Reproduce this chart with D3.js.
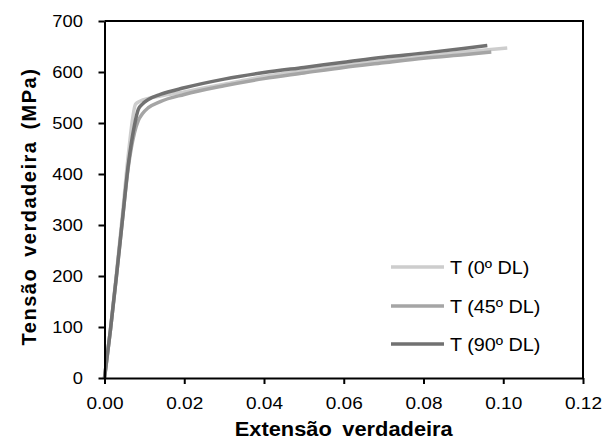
<!DOCTYPE html>
<html>
<head>
<style>
body {margin: 0; background: #fff; font-family: Arial, "Liberation Sans", sans-serif;}
</style>
<script src="https://cdnjs.cloudflare.com/ajax/libs/d3/7.8.5/d3.min.js"></script>
</head>
<body>
<div id="chart"></div>
<script>
    // values
    const seriesNames = ["T (0º DL)", "T (45º DL)", "T (90º DL)"];
    const seriesColors = ["#cdcdcd", "#a5a5a5", "#717171"];

    const strain0 = [0, 0.0015, 0.003, 0.0045, 0.006, 0.0078, 0.009, 0.011, 0.014, 0.02, 0.03, 0.04, 0.05, 0.06, 0.07, 0.08, 0.09, 0.101];
    const stress0 = [0, 95, 205, 320, 440, 537, 543, 548, 553, 561, 576, 591, 603, 613, 622, 631, 639, 647];

    const strain45 = [0, 0.0015, 0.003, 0.0045, 0.006, 0.0075, 0.0085, 0.0095, 0.011, 0.014, 0.02, 0.03, 0.04, 0.05, 0.06, 0.07, 0.08, 0.09, 0.097];
    const stress45 = [0, 95, 200, 310, 415, 480, 505, 518, 530, 542, 556, 573, 587, 598, 609, 618, 627, 634, 639];

    const strain90 = [0, 0.0015, 0.003, 0.0045, 0.006, 0.0075, 0.0085, 0.0095, 0.011, 0.014, 0.02, 0.03, 0.04, 0.05, 0.06, 0.07, 0.08, 0.09, 0.096];
    const stress90 = [0, 95, 200, 310, 420, 495, 527, 537, 546, 556, 569, 586, 599, 609, 619, 629, 637, 646, 652];

    const xTicks = [0, 0.02, 0.04, 0.06, 0.08, 0.10, 0.12];
    const yTicks = [0, 100, 200, 300, 400, 500, 600, 700];

    const W = 604, H = 441;
    const plotLeft = 104.5, plotRight = 583, plotTop = 21, plotBottom = 378;

    const svg = d3.select("#chart").append("svg")
        .attr("width", W)
        .attr("height", H);

    const x = d3.scaleLinear().domain([0, 0.12]).range([plotLeft, plotRight]);
    const y = d3.scaleLinear().domain([0, 700]).range([plotBottom, plotTop]);

    const series = [
        {name: seriesNames[0], color: seriesColors[0], pts: strain0.map((s, i) => [s, stress0[i]])},
        {name: seriesNames[1], color: seriesColors[1], pts: strain45.map((s, i) => [s, stress45[i]])},
        {name: seriesNames[2], color: seriesColors[2], pts: strain90.map((s, i) => [s, stress90[i]])}
    ];

    // frame (top and right)
    svg.append("path")
        .attr("d", `M${plotLeft},${plotTop}H${plotRight}V${plotBottom}`)
        .attr("fill", "none")
        .attr("stroke", "#000")
        .attr("stroke-width", 2);

    const line = d3.line()
        .x(d => x(d[0]))
        .y(d => y(d[1]))
        .curve(d3.curveMonotoneX);

    svg.append("g").selectAll("path")
        .data(series)
        .join("path")
            .attr("d", d => line(d.pts))
            .attr("fill", "none")
            .attr("stroke", d => d.color)
            .attr("stroke-width", 3.5)
            .attr("stroke-linejoin", "round");

    const xAxis = svg.append("g")
        .attr("transform", `translate(0,${plotBottom})`)
        .call(d3.axisBottom(x).tickValues(xTicks).tickFormat(d3.format(".2f")).tickSize(6).tickSizeOuter(0).tickPadding(13));

    const yAxis = svg.append("g")
        .attr("transform", `translate(${plotLeft},0)`)
        .call(d3.axisLeft(y).tickValues(yTicks).tickSize(6).tickSizeOuter(0).tickPadding(14));

    [xAxis, yAxis].forEach(a => {
        a.select(".domain").attr("stroke-width", 2);
        a.selectAll(".tick line").attr("stroke-width", 2);
        a.selectAll(".tick text")
            .attr("font-family", "Arial, 'Liberation Sans', sans-serif")
            .attr("font-size", 17)
            .attr("fill", "#000");
    });
    xAxis.selectAll(".tick text").attr("transform", "scale(1.12,1)");
    yAxis.selectAll(".tick text").attr("transform", "scale(1.08,1)");

    // axis titles
    svg.append("text")
        .attr("transform", `translate(${(plotLeft + plotRight) / 2},436) scale(1.12,1)`)
        .attr("text-anchor", "middle")
        .attr("font-size", 19.5)
        .attr("font-weight", "bold")
        .attr("word-spacing", 4)
        .text("Extensão verdadeira");

    svg.append("text")
        .attr("transform", `translate(36,${(plotTop + plotBottom) / 2 + 7}) rotate(-90)`)
        .attr("text-anchor", "middle")
        .attr("font-size", 20)
        .attr("font-weight", "bold")
        .attr("word-spacing", 4)
        .attr("letter-spacing", 1.5)
        .text("Tensão verdadeira (MPa)");

    // legend
    const legend = svg.append("g");
    const legY = [267, 306, 344];
    series.forEach((s, i) => {
        legend.append("line")
            .attr("x1", 391).attr("x2", 444)
            .attr("y1", legY[i]).attr("y2", legY[i])
            .attr("stroke", s.color)
            .attr("stroke-width", 3.5);
        legend.append("text")
            .attr("transform", `translate(450,${legY[i] + 7}) scale(1.1,1)`)
            .attr("font-size", 18)
            .text(s.name);
    });
</script>
</body>
</html>
